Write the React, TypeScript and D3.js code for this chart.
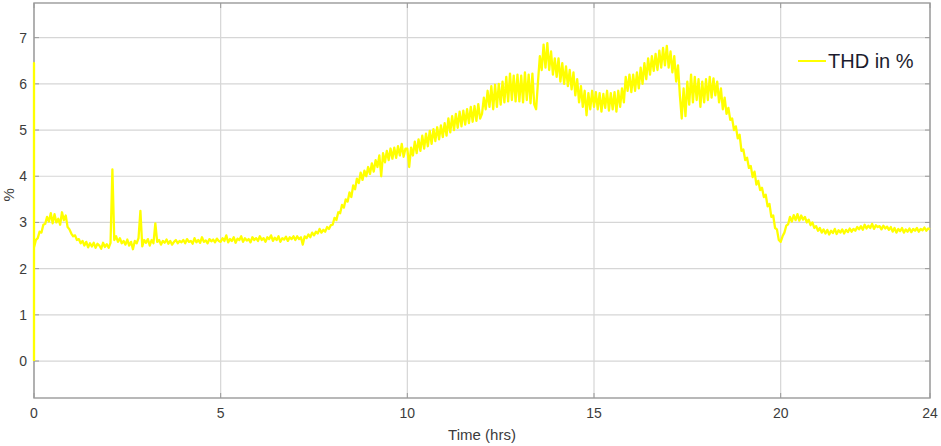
import React from "react";
import * as d3 from "d3";

// Time step between samples (hours)
const STEP = 0.05;
// Start-up transient at t = 0 (vertical trace)
const startupValues = [0, 6.45];
// THD in % sampled every 0.05 h, one row per hour
const thdValues: number[] = [
  2.45, 2.62, 2.66, 2.8, 2.78, 2.95, 2.97, 3.12, 3.02, 3.2, 2.98, 3.18, 3.0, 3.08, 2.95, 3.22, 3.05, 3.15, 2.9, 2.85,
  2.76, 2.7, 2.72, 2.62, 2.64, 2.55, 2.6, 2.5, 2.58, 2.46, 2.55, 2.48, 2.56, 2.45, 2.54, 2.5, 2.43, 2.56, 2.47, 2.53,
  2.45, 2.56, 4.15, 2.62, 2.7, 2.58, 2.66, 2.55, 2.6, 2.52, 2.63, 2.5, 2.58, 2.42, 2.6, 2.55, 2.66, 3.25, 2.48, 2.62,
  2.56, 2.64, 2.5, 2.62, 2.55, 2.98, 2.58, 2.62, 2.52, 2.6, 2.56, 2.63, 2.54, 2.6, 2.52, 2.58, 2.62, 2.55, 2.6, 2.57,
  2.62, 2.55, 2.64, 2.58, 2.6, 2.54, 2.66, 2.57, 2.62, 2.56, 2.68, 2.58, 2.61, 2.55, 2.64, 2.59, 2.63, 2.57, 2.65, 2.6,
  2.58, 2.66, 2.6, 2.72, 2.57, 2.64, 2.6, 2.68, 2.56, 2.65, 2.62, 2.7, 2.58, 2.66, 2.61, 2.64, 2.57, 2.68, 2.62, 2.66,
  2.6, 2.7, 2.62, 2.66, 2.58, 2.68, 2.64, 2.72, 2.6, 2.67, 2.62, 2.7, 2.58, 2.66, 2.63, 2.69, 2.6, 2.68, 2.64, 2.7,
  2.62, 2.7, 2.64, 2.68, 2.52, 2.7, 2.66, 2.74, 2.68, 2.78, 2.72, 2.8, 2.76, 2.86, 2.78, 2.84, 2.8, 2.9, 2.86, 2.94,
  2.95, 3.1, 3.05, 3.22, 3.2, 3.38, 3.32, 3.5, 3.45, 3.65, 3.55, 3.8, 3.72, 3.95, 3.85, 4.08, 3.92, 4.12, 4.0, 4.2,
  4.05, 4.28, 4.1, 4.35, 4.2, 4.45, 4.0, 4.5, 4.3, 4.55, 4.35, 4.6, 4.38, 4.62, 4.4, 4.65, 4.45, 4.7, 4.42, 4.6,
  4.6, 4.2, 4.62, 4.45, 4.75, 4.5, 4.8, 4.55, 4.88, 4.6, 4.92, 4.65, 4.98, 4.7, 5.02, 4.76, 5.06, 4.8, 5.1, 4.85,
  5.15, 4.88, 5.25, 4.95, 5.3, 5.0, 5.35, 5.05, 5.4, 5.08, 5.42, 5.12, 5.45, 5.15, 5.5, 5.18, 5.52, 5.2, 5.56, 5.25,
  5.35, 5.7, 5.45, 5.85, 5.5, 5.95, 5.45, 5.98, 5.5, 6.0, 5.55, 6.05, 5.6, 6.15, 5.62, 6.22, 5.65, 6.18, 5.62, 6.2,
  5.62, 6.18, 5.6, 6.25, 5.65, 6.2, 5.58, 6.22, 5.55, 5.45, 6.05, 6.6, 6.3, 6.85, 6.35, 6.88, 6.3, 6.7, 6.2, 6.55,
  6.15, 6.55, 6.05, 6.45, 6.0, 6.38, 5.95, 6.3, 5.88, 6.25, 5.75, 6.1, 5.6, 5.95, 5.5, 5.85, 5.32, 5.8, 5.45, 5.85,
  5.5, 5.82, 5.45, 5.8, 5.4, 5.78, 5.48, 5.85, 5.42, 5.8, 5.45, 5.82, 5.4, 5.85, 5.5, 5.9, 5.6, 6.15, 5.85, 6.2,
  5.82, 6.2, 5.85, 6.25, 5.9, 6.35, 6.0, 6.45, 6.1, 6.55, 6.2, 6.6, 6.28, 6.65, 6.3, 6.72, 6.35, 6.78, 6.4, 6.82,
  6.35, 6.7, 6.25, 6.6, 6.05, 6.4, 5.75, 5.25, 5.9, 5.3, 6.05, 5.55, 6.2, 5.6, 6.15, 5.65, 6.1, 5.5, 6.05, 5.6,
  6.1, 5.65, 6.15, 5.7, 6.12, 5.75, 6.05, 5.6, 5.9, 5.45, 5.7, 5.35, 5.48, 5.22, 5.25, 5.0, 5.08, 4.82, 4.9, 4.55,
  4.58, 4.35, 4.4, 4.18, 4.22, 3.98, 4.1, 3.82, 3.9, 3.7, 3.75, 3.55, 3.6, 3.35, 3.4, 3.12, 3.15, 2.88, 2.85, 2.62,
  2.58, 2.7, 2.78, 2.93, 2.96, 3.12, 3.02, 3.16, 3.05, 3.18, 3.04, 3.15, 3.06, 3.12, 3.0, 3.06, 2.94, 3.0, 2.88, 2.92,
  2.82, 2.88, 2.78, 2.85, 2.76, 2.84, 2.74, 2.82, 2.77, 2.86, 2.75, 2.83, 2.78, 2.85, 2.76, 2.84, 2.79, 2.87, 2.8, 2.86,
  2.82, 2.9, 2.85, 2.92, 2.84, 2.95, 2.87, 2.93, 2.88, 2.97, 2.86, 2.94, 2.9, 2.92, 2.85, 2.93, 2.87, 2.91, 2.84, 2.9,
  2.8, 2.88, 2.78, 2.86, 2.81, 2.88, 2.78, 2.85, 2.8, 2.87, 2.79, 2.86, 2.82, 2.88, 2.8, 2.86, 2.83, 2.89, 2.82, 2.87,
  2.85,
];

const xTicks = [0, 5, 10, 15, 20, 24];
const yTicks = [0, 1, 2, 3, 4, 5, 6, 7];
const seriesName = "THD in %";
const xLabel = "Time (hrs)";
const yLabel = "%";

const W = 941;
const H = 446;
const L = 34, R = 930, T = 3, B = 398;

export default function App() {
  const x = d3.scaleLinear().domain([0, 24]).range([L, R]);
  const y = d3.scaleLinear().domain([-0.8, 7.75]).range([B, T]);

  const pts: [number, number][] = [
    ...startupValues.map((v) => [0, v] as [number, number]),
    ...thdValues.map((v, i) => [i * STEP, v] as [number, number]),
  ];
  const line = d3
    .line<[number, number]>()
    .x((d) => x(d[0]))
    .y((d) => y(d[1]));

  const font = "Liberation Sans, Arial, Helvetica, sans-serif";
  const grid = "#d6d6d6";
  const axisC = "#9a9a9a";
  const textC = "#3c3c3c";

  return (
    <svg width={W} height={H} style={{ position: "absolute", left: 0, top: 0, background: "#fff" }}>
      <rect x={0} y={0} width={W} height={H} fill="#fff" />
      {/* grid */}
      {xTicks.map((t) => (
        <line key={"gx" + t} x1={x(t)} x2={x(t)} y1={T} y2={B} stroke={grid} strokeWidth={1.2} />
      ))}
      {yTicks.map((t) => (
        <line key={"gy" + t} x1={L} x2={R} y1={y(t)} y2={y(t)} stroke={grid} strokeWidth={1.2} />
      ))}
      {/* box */}
      <rect x={L} y={T} width={R - L} height={B - T} fill="none" stroke={axisC} strokeWidth={1.4} />
      {/* ticks */}
      {xTicks.map((t) => (
        <g key={"tx" + t}>
          <line x1={x(t)} x2={x(t)} y1={B} y2={B - 5} stroke={axisC} />
          <line x1={x(t)} x2={x(t)} y1={T} y2={T + 5} stroke={axisC} />
        </g>
      ))}
      {yTicks.map((t) => (
        <g key={"ty" + t}>
          <line x1={L} x2={L + 5} y1={y(t)} y2={y(t)} stroke={axisC} />
          <line x1={R} x2={R - 5} y1={y(t)} y2={y(t)} stroke={axisC} />
        </g>
      ))}
      {/* data */}
      <path d={line(pts) || ""} fill="none" stroke="#ffff00" strokeWidth={2.3} strokeLinejoin="round" />
      {/* tick labels */}
      {xTicks.map((t) => (
        <text key={"lx" + t} x={x(t)} y={418} textAnchor="middle" fontFamily={font} fontSize={14} fill={textC}>
          {t}
        </text>
      ))}
      {yTicks.map((t) => (
        <text key={"ly" + t} x={27} y={y(t) + 5} textAnchor="end" fontFamily={font} fontSize={14} fill={textC}>
          {t}
        </text>
      ))}
      {/* axis labels */}
      <text x={(L + R) / 2} y={440} textAnchor="middle" fontFamily={font} fontSize={15} fill={textC}>
        {xLabel}
      </text>
      <text
        transform={`translate(14,${y(3.6)}) rotate(-90)`}
        textAnchor="middle"
        fontFamily={font}
        fontSize={15}
        fill={textC}
      >
        {yLabel}
      </text>
      {/* legend */}
      <line x1={798} x2={826} y1={61} y2={61} stroke="#ffff00" strokeWidth={2} />
      <text x={828} y={68} fontFamily={font} fontSize={20} fill="#1c1c2e">
        {seriesName}
      </text>
    </svg>
  );
}
